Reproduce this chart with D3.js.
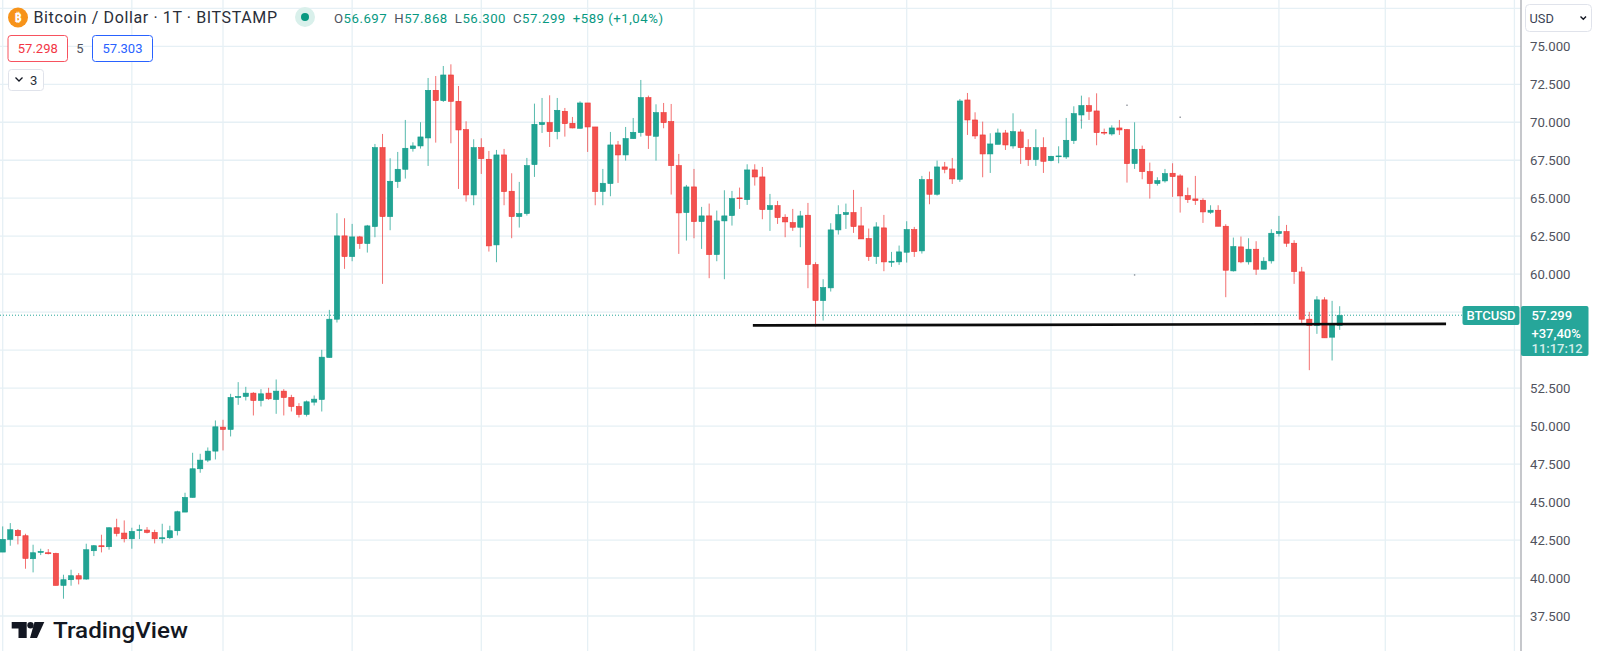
<!DOCTYPE html>
<html><head><meta charset="utf-8">
<style>html,body{margin:0;padding:0;background:#fff;overflow:hidden}svg{display:block}text{font-family:Roboto,"Noto Sans",sans-serif}</style>
<script src="https://cdn.jsdelivr.net/npm/d3@7/dist/d3.min.js"></script>
</head><body><div id="chart"></div>
<script>
const opens=[41708,42542,43134,42783,41270,41686,41664,41621,39515,39888,
40151,39932,41796,42125,42060,43309,42958,42585,43134,43156,
43002,42585,42651,43112,44340,45305,47191,47761,48353,49932,
49779,51884,51950,52169,51687,52169,51752,52301,51884,51292,
50766,51577,51752,54515,57037,62520,61160,62454,62016,63134,
68331,63792,66095,66906,68266,68441,68967,72103,71424,73112,
71380,69516,65217,68331,67564,61928,67849,65459,63792,63989,
67213,69845,69976,69384,70722,69932,69603,71270,69691,65437,
65963,68507,67849,68924,69318,71621,69077,70634,70042,67147,
64055,65743,63463,63836,61292,63507,63858,65020,64910,66862,
66401,64252,64515,63748,63397,63090,63880,60634,58265,59099,
62915,63923,64055,63178,62344,61160,63046,60787,60809,61445,
62936,61533,66226,65261,67059,66928,66248,71467,70151,69165,
67915,68550,69296,68441,69362,68331,67542,68331,67476,67739,
67717,68792,70480,71094,70744,69340,69230,69625,69515,67279,
68222,66752,65963,66138,66643,66467,65173,64954,64866,64077,
64209,63156,60217,61796,60809,61643,60327,60875,62673,62805,
62037,60151,57037,56621,58309,55853,56621];
const highs=[43397,43616,43222,42915,42191,41928,41906,41664,40217,40546,
40327,42257,42169,42849,43331,43901,43792,43309,43507,43353,
43178,43572,43441,44428,45612,48244,48178,48594,50371,50415,
52125,52893,52586,52235,52432,52520,53068,52432,52059,51511,
51687,52016,55020,57651,64011,63682,63310,62520,63244,68573,
69231,67630,68046,70152,68682,70000,72915,73046,73704,73814,
72388,70064,68880,68945,68112,68178,68244,66643,66073,67652,
71226,71599,71774,71599,70941,70349,71380,71270,69691,66928,
69362,68770,69691,70283,72783,71753,71182,71270,71204,67915,
65875,66928,64428,64647,64186,65524,65480,65700,67235,67235,
67059,65283,64822,63945,64296,64165,64691,60787,59669,63353,
64537,64647,65546,64428,63002,63419,63901,61467,61884,63485,
63112,66467,66752,67476,67388,67651,71533,71928,70656,70042,
69274,69581,69494,70590,69537,68879,69537,69011,67783,68419,
70283,71051,71752,71643,71906,69581,69800,70151,69559,69998,
68463,67344,66379,66928,67301,66577,65700,66467,64998,64537,
64537,63287,62410,62476,62366,62169,61116,62958,63836,63244,
62235,60480,57520,58550,58485,58243,57892];
const lows=[41708,42125,42213,40612,40371,41511,41555,39515,38638,39493,
39581,39888,41445,41686,41862,42739,42344,41928,42564,42937,
42279,42279,42564,42805,44340,45305,46928,47630,47805,48397,
49318,51401,51687,50700,51292,51730,50809,50700,50963,50568,
50634,51358,50962,54515,56818,60349,60853,61665,61423,62432,
59362,62893,65678,66292,68068,68266,67125,68660,71336,68617,
65612,64779,64538,66599,61489,60788,64538,62367,63068,63858,
66402,69296,68375,68880,69055,69603,69603,68046,64538,64538,
65130,66007,67476,68924,69055,68244,67476,69603,65240,61336,
62213,62366,61665,59735,60853,59669,63200,64296,64559,65831,
63616,62849,63309,62432,62849,61774,59077,56555,56950,58857,
62607,62980,62717,62322,60875,60677,60195,60480,60612,60765,
61138,61357,64603,65173,66643,65941,66072,69165,68901,66379,
66665,68550,68178,68265,67257,67125,67125,66665,67432,67301,
67586,68572,69581,70151,68485,69165,69121,69165,66028,66928,
66248,64976,65831,66028,65086,64055,64691,64559,63375,63967,
63156,58485,60173,60722,60634,59954,60327,60700,62476,61796,
59362,56708,53682,56072,55809,54318,56335];
const closes=[42542,43178,42783,41292,41664,41752,41599,39515,39888,40151,
39932,41862,42125,42060,43309,42936,42585,43068,43178,43002,
42585,42651,43112,44362,45305,47191,47761,48353,49954,49779,
51884,51950,52169,51687,52125,51796,52301,51884,51292,50766,
51599,51774,54537,57037,62520,61160,62454,62016,63178,68331,
63792,66116,66906,68288,68441,69033,72103,71424,73112,71380,
69494,65217,68331,67608,61862,67849,65437,63792,63989,67147,
69866,69976,69384,70788,69910,69625,71270,69691,65437,65985,
68507,67849,68924,69340,71621,69143,70634,69976,67147,64033,
65743,63463,63836,61292,63507,63836,64976,64976,66862,66401,
64252,64515,63726,63441,63090,63836,60634,58265,59121,62915,
63923,64055,63134,62322,61160,63112,60809,60853,61467,62936,
61489,66226,65261,67059,66906,66270,71401,70151,69099,67915,
68572,69296,68507,69384,68331,67542,68331,67432,67761,67783,
68814,70568,71094,70722,69318,69296,69625,69494,67279,68222,
66752,65963,66160,66621,66423,65151,64910,64844,64099,64209,
63156,60261,61818,60809,61643,60327,60853,62695,62805,62037,
60173,57037,56621,58309,55809,56752,57279];
const speckPrices=[71120,70330,59950,70130];
const speckIndex=[148,155,149,142];
const priceTicks=[77500,75000,72500,70000,67500,65000,62500,60000,57500,55000,52500,50000,47500,45000,42500,40000,37500];
const tickLabels=["75.000","72.500","70.000","67.500","65.000","62.500","60.000","52.500","50.000","47.500","45.000","42.500","40.000","37.500"];
const tickValues=[75000,72500,70000,67500,65000,62500,60000,52500,50000,47500,45000,42500,40000,37500];
const gridIndex=[0,17,29,46,63,77,91,107,119,138,154,168,182,199];
const supportPrices=[56631,56730];
const supportIndex=[98.75,190];
const lastPrice=57299;
const titleText="Bitcoin / Dollar · 1T · BITSTAMP";
const ohlcLabels=["O","H","L","C"];
const ohlcValues=["56.697","57.868","56.300","57.299"];

const W=1600,H=651,AX=1521;
const svg=d3.select("#chart").append("svg").attr("width",W).attr("height",H);
const x=d3.scaleLinear().domain([0,176]).range([2.7,1339.7]);
const y=d3.scaleLinear().domain([75000,37500]).range([46.3,616]);
const GRID="#e6f0f5",UP="#22a393",DOWN="#f2524f",UPS="#0f9c8a",DOWNS="#ee3534";
const gG=svg.append("g");
gG.selectAll("line.h").data(priceTicks).join("line").attr("x1",0).attr("x2",AX).attr("y1",d=>y(d)).attr("y2",d=>y(d)).attr("stroke",GRID).attr("stroke-width",1.3);
gG.selectAll("line.v").data(gridIndex).join("line").attr("x1",d=>x(d)).attr("x2",d=>x(d)).attr("y1",0).attr("y2",H).attr("stroke",GRID).attr("stroke-width",1.3);
svg.append("line").attr("x1",0).attr("x2",1463).attr("y1",y(lastPrice)).attr("y2",y(lastPrice)).attr("stroke","#26a69a").attr("stroke-width",1).attr("stroke-dasharray","1 2");
const idx=d3.range(opens.length);
const col=i=>closes[i]>=opens[i];
const candles=svg.append("g");
candles.selectAll("line.w").data(idx).join("line").attr("x1",i=>x(i)).attr("x2",i=>x(i)).attr("y1",i=>y(highs[i])).attr("y2",i=>y(lows[i])).attr("stroke",i=>col(i)?UPS:DOWNS).attr("stroke-width",1).attr("stroke-opacity",.7);
candles.selectAll("rect").data(idx).join("rect").attr("x",i=>x(i)-2.6).attr("width",5.2).attr("y",i=>Math.min(y(opens[i]),y(closes[i]))).attr("height",i=>Math.max(.8,Math.abs(y(opens[i])-y(closes[i])))).attr("fill",i=>col(i)?UP:DOWN).attr("stroke",i=>col(i)?UPS:DOWNS).attr("stroke-width",.6);
svg.append("g").selectAll("rect").data(speckIndex).join("rect").attr("x",d=>x(d)-.7).attr("y",(d,i)=>y(speckPrices[i])-.7).attr("width",1.4).attr("height",1.4).attr("fill","#8a8f98");
svg.append("line").attr("x1",x(supportIndex[0])).attr("x2",x(supportIndex[1])).attr("y1",y(supportPrices[0])).attr("y2",y(supportPrices[1])).attr("stroke","#0b0b0b").attr("stroke-width",2.7);
// price axis
svg.append("rect").attr("x",AX).attr("y",0).attr("width",W-AX).attr("height",H).attr("fill","#fff");
svg.append("line").attr("x1",AX).attr("x2",AX).attr("y1",0).attr("y2",H).attr("stroke","#b8babf").attr("stroke-width",1.6);
svg.append("g").selectAll("text").data(tickValues).join("text").attr("x",1530).attr("y",d=>y(d)+4.6).attr("font-size",13.2).attr("fill","#50535e").text((d,i)=>tickLabels[i]);
svg.append("rect").attr("x",1525.5).attr("y",4.5).attr("width",66).attr("height",27).attr("rx",4).attr("fill","#fff").attr("stroke","#e0e3eb");
svg.append("text").attr("x",1529.5).attr("y",22.5).attr("font-size",12.8).attr("fill","#3a4356").text("USD");
svg.append("path").attr("d","M1580.5 16.5L1583.3 19.3L1586 16.5").attr("fill","none").attr("stroke","#131722").attr("stroke-width",1.4);
// last price labels
const TEAL="#26a69a";
svg.append("rect").attr("x",1462.5).attr("y",306).attr("width",57).attr("height",19).attr("rx",2).attr("fill",TEAL);
svg.append("text").attr("x",1491).attr("y",320).attr("text-anchor","middle").attr("font-size",13).attr("font-weight",500).attr("fill","#fff").text("BTCUSD");
svg.append("rect").attr("x",1521).attr("y",306).attr("width",67.5).attr("height",50).attr("rx",2).attr("fill",TEAL);
svg.append("g").selectAll("text").data(["57.299","+37,40%","11:17:12"]).join("text").attr("x",1531.5).attr("y",(d,i)=>[320,337.5,352.5][i]).attr("font-size",13).attr("font-weight",500).attr("fill",(d,i)=>i==2?"#d5eeeb":"#fff").text(d=>d);
// header
svg.append("circle").attr("cx",18).attr("cy",17.5).attr("r",10).attr("fill","#f7931a");
svg.append("text").attr("x",18).attr("y",22).attr("text-anchor","middle").attr("font-size",13).attr("font-weight",700).attr("fill","#fff").text("₿");
svg.append("text").attr("x",33.5).attr("y",23).attr("font-size",16).attr("fill","#2a2e39").attr("textLength",243.5).attr("lengthAdjust","spacing").text(titleText);
svg.append("circle").attr("cx",305).attr("cy",17).attr("r",10).attr("fill","#d9f0eb");
svg.append("circle").attr("cx",305).attr("cy",17).attr("r",4).attr("fill","#089981");
const ohlc=svg.append("text").attr("x",334).attr("y",22.5).attr("font-size",13.2).attr("textLength",329).attr("lengthAdjust","spacing");
ohlcLabels.forEach((l,i)=>{
  ohlc.append("tspan").attr("fill","#50535e").attr("dx",i?7:0).text(l);
  ohlc.append("tspan").attr("fill","#089981").text(ohlcValues[i]);
});
ohlc.append("tspan").attr("fill","#089981").attr("dx",7).text("+589 (+1,04%)");
svg.append("rect").attr("x",8).attr("y",35.5).attr("width",59.5).attr("height",26).attr("rx",3).attr("fill","#fff").attr("stroke","#f7525f");
svg.append("text").attr("x",37.8).attr("y",53).attr("text-anchor","middle").attr("font-size",13).attr("fill","#f23645").text("57.298");
svg.append("text").attr("x",80).attr("y",53).attr("text-anchor","middle").attr("font-size",13).attr("fill","#50535e").text("5");
svg.append("rect").attr("x",92.5).attr("y",35.5).attr("width",60).attr("height",26).attr("rx",3).attr("fill","#fff").attr("stroke","#2962ff");
svg.append("text").attr("x",122.5).attr("y",53).attr("text-anchor","middle").attr("font-size",13).attr("fill","#2962ff").text("57.303");
svg.append("rect").attr("x",8.5).attr("y",69.5).attr("width",35).attr("height",21).attr("rx",3).attr("fill","#fff").attr("stroke","#e0e3eb");
svg.append("path").attr("d","M15.5 77.5L19 81L22.5 77.5").attr("fill","none").attr("stroke","#131722").attr("stroke-width",1.3);
svg.append("text").attr("x",30).attr("y",85).attr("font-size",13).attr("fill","#2a2e39").text("3");
// logo
svg.append("path").attr("d","M11.7 622H26.7V638H18.5V628.5H11.7Z").attr("fill","#131722");
svg.append("circle").attr("cx",30.5).attr("cy",625.2).attr("r",3.2).attr("fill","#131722");
svg.append("path").attr("d","M34.5 622H44.3L37 638H30Z").attr("fill","#131722");
svg.append("text").attr("x",53).attr("y",637.5).attr("font-size",22.5).attr("font-weight",500).attr("font-family","Inter,Roboto,sans-serif").attr("fill","#131722").attr("textLength",135).attr("lengthAdjust","spacingAndGlyphs").text("TradingView");
</script></body></html>
